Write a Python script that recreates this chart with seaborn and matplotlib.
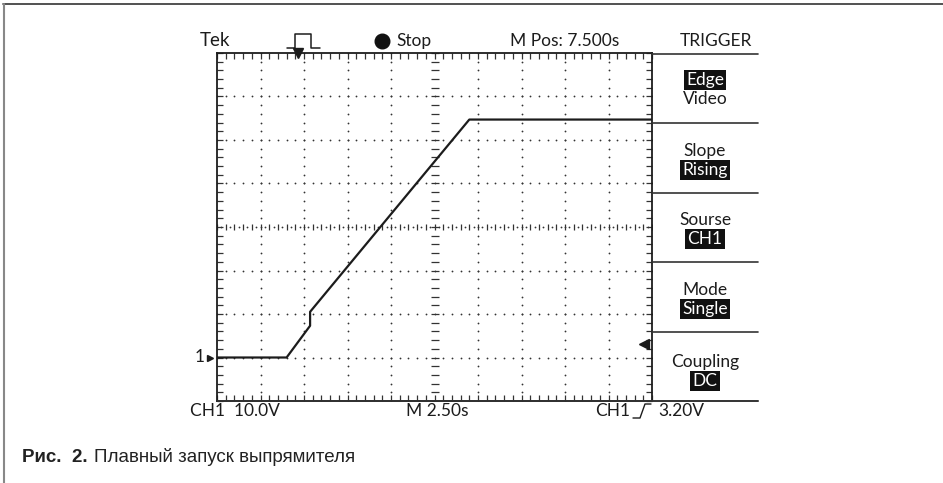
import numpy as np
import pandas as pd
import matplotlib
matplotlib.use("Agg")
import matplotlib.pyplot as plt
import seaborn as sns
from matplotlib.lines import Line2D

# ---- data (time in s, voltage in V relative to CH1 ground) ----
time_s = [0.0, 4.0, 5.35, 5.35, 14.5, 25.0]
volts = [0.0, 0.0, 7.3, 10.5, 54.7, 54.7]

header_texts = ["Tek", "Stop", "M Pos: 7.500s", "TRIGGER"]
menu_titles = ["Edge", "Slope", "Sourse", "Mode", "Coupling"]
menu_values = ["Video", "Rising", "CH1", "Single", "DC"]
menu_title_hl = [True, False, False, False, False]
menu_value_hl = [False, True, True, True, True]
bottom_texts = ["CH1  10.0V", "M 2.50s", "CH1", "3.20V"]
caption_bold = "Рис.  2."
caption_text = "Плавный запуск выпрямителя"

sec_per_div = 2.5
volt_per_div = 10.0
ground_div = -3  # ground position (divisions from centre)
trig_level = 3.2
trig_pos_s = 4.65

sns.set_theme(style="white")
plt.rcParams["font.family"] = ["Lato", "DejaVu Sans"]

W, H = 943, 483
fig = plt.figure(figsize=(W / 100, H / 100), dpi=100)


def fx(x):
    return x / W


def fy(y):
    return 1 - y / H


L, R, T, B = 217, 652, 53, 401
ax = fig.add_axes([fx(L), fy(B), fx(R) - fx(L), fy(T) - fy(B)])

xmin, xmax = 0, 10 * sec_per_div
ymin = (-4 - ground_div) * volt_per_div
ymax = (4 - ground_div) * volt_per_div
ax.set_xlim(xmin, xmax)
ax.set_ylim(ymin, ymax)

ink = "#1c1c1c"
FW = "normal"
FS = 12.5

# graticule dotted lines
minor_x = np.arange(0, xmax + 1e-9, sec_per_div / 5)
minor_y = np.arange(ymin, ymax + 1e-9, volt_per_div / 5)
major_x = np.arange(sec_per_div, xmax - 1e-9, sec_per_div)
major_y = np.arange(ymin + volt_per_div, ymax - 1e-9, volt_per_div)
cx = 5 * sec_per_div
cy = ymin + 4 * volt_per_div
for gx in major_x:
    if abs(gx - cx) < 1e-9:
        continue
    ax.plot(np.full_like(minor_y, gx), minor_y, ls="none", marker="o",
            ms=1.3, color="#333333", mew=0)
for gy in major_y:
    if abs(gy - cy) < 1e-9:
        continue
    ax.plot(minor_x, np.full_like(minor_x, gy), ls="none", marker="o",
            ms=1.3, color="#333333", mew=0)

# centre cross lines with minor ticks
ax.plot(minor_x, np.full_like(minor_x, cy), ls="none", marker="|", ms=5,
        mew=0.9, color="#333333")
ax.plot(minor_x[:-1] + sec_per_div / 10, np.full(len(minor_x) - 1, cy),
        ls="none", marker="o", ms=1.3, mew=0, color="#333333")
ax.plot(np.full_like(minor_y, cx), minor_y, ls="none", marker="_", ms=6,
        mew=0.9, color="#333333")

# waveform
df = pd.DataFrame({"t": time_s, "v": volts})
sns.lineplot(data=df, x="t", y="v", sort=False, estimator=None, ax=ax,
             color=ink, lw=1.6)

ax.set_xlabel("")
ax.set_ylabel("")
ax.set_xticks(np.arange(0, xmax + 1e-9, sec_per_div))
ax.set_yticks(np.arange(ymin, ymax + 1e-9, volt_per_div))
ax.set_xticks(minor_x, minor=True)
ax.set_yticks(minor_y, minor=True)
ax.tick_params(which="both", direction="in", length=4, width=0.9,
               color="#333333", top=True, right=True, bottom=True, left=True,
               labelbottom=False, labelleft=False)
for s in ax.spines.values():
    s.set_color(ink)
    s.set_linewidth(1.3)

# ground marker "1 ->"
ax.plot([-0.016], [0.0], transform=ax.get_yaxis_transform(), marker=">",
        ms=4.5, color=ink, clip_on=False)
ax.text(-0.04, 0.0, "1", transform=ax.get_yaxis_transform(), ha="center",
        va="center", fontsize=FS, fontweight=FW, color=ink)

# trigger level marker (right side)
ax.plot([0.982], [trig_level], transform=ax.get_yaxis_transform(), marker="<",
        ms=7, color=ink, clip_on=False)

# trigger position marker (top)
ax.plot([trig_pos_s], [1.0], transform=ax.get_xaxis_transform(), marker="v",
        ms=7, color=ink, clip_on=False)

# right menu panel
panel_lines = np.linspace(T + 1, B, 6)
for y in panel_lines:
    fig.add_artist(Line2D([fx(R), fx(758)], [fy(y), fy(y)], color="#333333",
                          lw=1.2))
fig.add_artist(Line2D([fx(L), fx(758)], [fy(B), fy(B)], color="#333333",
                      lw=1.2))

title_y = [80, 151, 220, 290, 362]
value_y = [99, 170, 239, 309, 381]
for t, v, ty, vy, th, vh in zip(menu_titles, menu_values, title_y, value_y,
                                menu_title_hl, menu_value_hl):
    for s, yy, hl in ((t, ty, th), (v, vy, vh)):
        kw = dict(ha="center", va="center", fontsize=FS, fontweight=FW)
        if hl:
            kw.update(color="white",
                      bbox=dict(boxstyle="square,pad=0.12", fc="#111111",
                                ec="none"))
        else:
            kw.update(color=ink)
        fig.text(fx(705), fy(yy), s, **kw)

# header
hy = 41
fig.text(fx(200), fy(hy), header_texts[0], ha="left", va="center",
         fontsize=13.5, fontweight=FW, color=ink)
px = [287, 295, 295, 311, 311, 320]
py = [48, 48, 34, 34, 48, 48]
fig.add_artist(Line2D([fx(p) for p in px], [fy(p) for p in py], color=ink,
                      lw=1.1))
fig.add_artist(Line2D([fx(382)], [fy(hy)], marker="o", ms=10.5,
                      color="#111111", ls="none"))
fig.text(fx(396), fy(hy), header_texts[1], ha="left", va="center",
         fontsize=FS, fontweight=FW, color=ink)
fig.text(fx(510), fy(hy), header_texts[2], ha="left", va="center",
         fontsize=FS, fontweight=FW, color=ink)
fig.text(fx(752), fy(hy), header_texts[3], ha="right", va="center",
         fontsize=FS, fontweight=FW, color=ink)

# bottom labels
by = 411
fig.text(fx(190), fy(by), bottom_texts[0], ha="left", va="center",
         fontsize=FS, fontweight=FW, color=ink)
fig.text(fx(437), fy(by), bottom_texts[1], ha="center", va="center",
         fontsize=FS, fontweight=FW, color=ink)
fig.text(fx(595), fy(by), bottom_texts[2], ha="left", va="center",
         fontsize=FS, fontweight=FW, color=ink)
gx = [633, 640, 645, 651]
gy_ = [418, 418, 404, 404]
fig.add_artist(Line2D([fx(p) for p in gx], [fy(p) for p in gy_], color=ink,
                      lw=1.0))
fig.text(fx(658), fy(by), bottom_texts[3], ha="left", va="center",
         fontsize=FS, fontweight=FW, color=ink)

# outer frame (top and left edges)
fig.add_artist(Line2D([fx(3), fx(943)], [fy(4), fy(4)], color="#333333",
                      lw=1.2))
fig.add_artist(Line2D([fx(3.5), fx(3.5)], [fy(4), fy(483)], color="#888888",
                      lw=1.5))

# caption
cap_font = ["Liberation Sans", "DejaVu Sans"]
t1 = fig.text(fx(22), fy(457), caption_bold, ha="left", va="center",
              fontsize=13.5, fontweight="bold", family=cap_font,
              color="#222222")
fig.canvas.draw()
bb = t1.get_window_extent()
fig.text(bb.x1 / W + 6 / W, fy(457), caption_text, ha="left", va="center",
         fontsize=13.5, family=cap_font, color="#222222")

fig.savefig("out.png", dpi=100, facecolor="white")
